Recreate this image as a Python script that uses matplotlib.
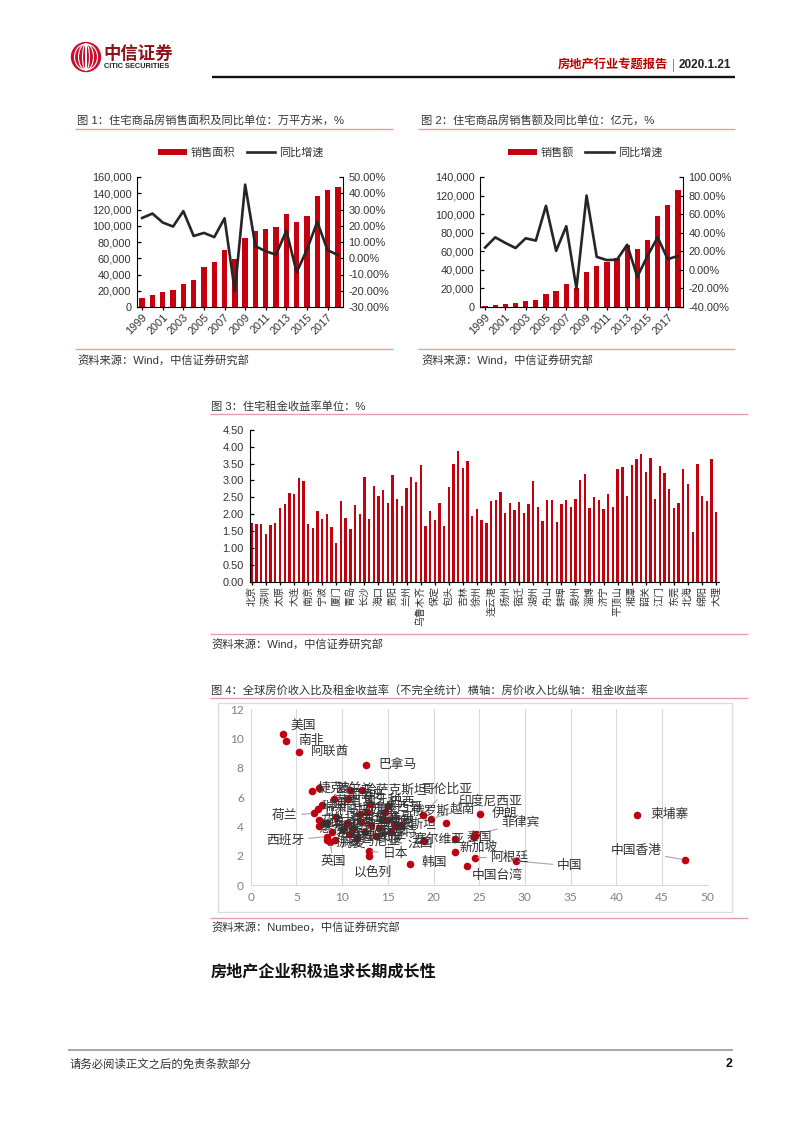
import numpy as np
import matplotlib
matplotlib.use('Agg')
import matplotlib.pyplot as plt
from matplotlib.patches import Circle, Rectangle, Ellipse
from matplotlib.ticker import FuncFormatter

plt.rcParams['font.family'] = ['Liberation Sans', 'Noto Sans CJK SC', 'DejaVu Sans']

W, H = 802, 1133
RED = '#C5000F'
PINK = '#E3A0A0'
TXT = '#333333'

# chart data
years = list(range(1999, 2019))
area = [11500, 14500, 18000, 21500, 28000, 33800, 49000, 55000, 70000, 58500,
        85500, 93000, 96500, 98000, 115000, 105000, 112000, 137000, 144500, 148000]
area_growth = [24.8, 27.5, 22, 19.5, 29, 13.7, 15.6, 13, 24.6, -20.3,
               45.3, 7.4, 4.3, 2.2, 17, -8.6, 5.3, 22.4, 5, 2]
sales = [1500, 2500, 3300, 4200, 6000, 8000, 14500, 17000, 25000, 21000,
         38000, 44000, 48000, 53000, 67000, 62000, 72500, 98500, 110000, 126000]
sales_growth = [24, 35, 29, 23.5, 34, 31.5, 69, 20.5, 47, -20,
                80, 14, 10.5, 11, 27, -7.5, 15, 35, 11.5, 15]

cities = ['北京', '深圳', '太原', '大连', '南京', '宁波', '厦门', '青岛', '长沙', '海口', '贵阳', '兰州',
          '乌鲁木齐', '保定', '包头', '吉林', '徐州', '连云港', '扬州', '宿迁', '湖州', '舟山', '蚌埠',
          '泉州', '淄博', '济宁', '平顶山', '湘潭', '韶关', '江门', '东莞', '北海', '绵阳', '大理']
rent_yield = [1.74, 1.72, 1.70, 1.42, 1.69, 1.74, 2.19, 2.30, 2.62, 2.59, 3.07, 2.98, 1.70, 1.60, 2.10, 1.86,
              2.01, 1.63, 1.15, 2.39, 1.88, 1.55, 2.27, 2.00, 3.10, 1.85, 2.83, 2.55, 2.71, 2.32, 3.16, 2.46,
              2.24, 2.79, 3.10, 2.97, 3.46, 1.66, 2.09, 1.82, 2.33, 1.64, 2.80, 3.48, 3.89, 3.36, 3.59, 1.95,
              2.14, 1.82, 1.74, 2.40, 2.42, 2.66, 2.03, 2.32, 2.11, 2.37, 2.03, 2.30, 2.99, 2.20, 1.81, 2.42,
              2.42, 1.76, 2.31, 2.42, 2.22, 2.44, 3.01, 3.19, 2.17, 2.52, 2.42, 2.15, 2.60, 2.21, 3.33, 3.41,
              2.54, 3.46, 3.63, 3.78, 3.26, 3.67, 2.44, 3.43, 3.22, 2.75, 2.19, 2.33, 3.34, 2.89, 1.46, 3.48,
              2.54, 2.39, 3.63, 2.05]

# scatter: price to income ratio, rental yield, label offset from the point in pixels
countries = ['美国', '南非', '阿联酋', '巴拿马', '柬埔寨', '中国香港', '中国', '阿根廷', '中国台湾', '新加坡',
             '韩国', '日本', '以色列', '英国', '西班牙', '荷兰', '伊朗', '菲律宾', '越南', '印度尼西亚',
             '哥伦比亚', '俄罗斯', '法国', '塞尔维亚', '泰国', '波兰', '爱尔兰', '哈萨克斯坦', '土耳其', '比利时',
             '捷克', '葡萄牙', '德国', '瑞典', '芬兰', '意大利', '奥地利', '瑞士', '希腊', '挪威',
             '丹麦', '匈牙利', '巴西', '墨西哥', '智利', '秘鲁', '印度', '马来西亚', '澳大利亚', '新西兰',
             '加拿大', '乌克兰', '罗马尼亚', '克罗地亚', '保加利亚', '斯洛伐克', '埃及', '摩洛哥', '沙特', '巴基斯坦']
income_ratio = [3.5, 3.9, 5.3, 12.6, 42.3, 47.5, 29.0, 24.5, 23.7, 22.3,
                17.4, 12.95, 12.95, 8.7, 8.3, 6.9, 25.1, 24.6, 21.4, 19.7,
                18.9, 16.4, 19.0, 22.3, 24.4, 7.5, 10.9, 12.2, 9.1, 9.3,
                6.7, 10.7, 7.8, 7.4, 7.5, 7.5, 8.3, 7.8, 8.9, 8.3,
                9.2, 13.0, 15.0, 14.7, 14.9, 12.7, 13.7, 12.0, 10.1, 10.5,
                10.9, 11.2, 11.6, 12.1, 12.5, 13.2, 14.0, 14.4, 15.3, 15.8]
yield_pct = [10.3, 9.8, 9.05, 8.15, 4.74, 1.71, 1.64, 1.87, 1.32, 2.28,
             1.43, 2.32, 1.98, 2.9, 3.3, 4.9, 4.87, 3.45, 4.2, 4.5,
             4.8, 4.1, 3.03, 3.17, 3.3, 6.6, 6.45, 6.45, 5.85, 4.65,
             6.4, 5.85, 5.45, 5.2, 4.45, 4.0, 4.2, 4.25, 3.6, 3.1,
             3.1, 5.55, 5.4, 5.0, 4.4, 5.0, 3.37, 4.85, 3.8, 4.2,
             3.5, 3.9, 3.2, 4.3, 3.6, 4.1, 3.9, 4.4, 3.7, 4.0]
label_dx = [21, 25, 31, 32, 32, -49, 54, 35, 30, 24,
            25, 26, 4, 3, -41, -29, 24, 45, 16, 59,
            23, 30, -4, -16, 6, 30, 4, 33, 23, 8,
            18, 18, 22, 16, 14, 18, 14, 20, 16, 22,
            18, 12, 14, 18, 14, 10, 14, 10, 20, 22,
            20, 16, 18, 14, 16, 18, 16, 12, 14, 16]
label_dy = [7, 0, 0, 0, 0, 9, -5, 0, -10, 4,
            1, -3, -17, -20, -4, -3, 0, 11, 14, 18,
            25, 13, -3, -1, -1, 0, 0, 0, -3, 6,
            2, 3, 3, 2, -2, -3, -2, 2, -2, -3,
            -4, 3, 3, 4, -2, 3, -3, 3, -3, 2,
            -3, 2, -3, 2, -3, 2, -3, 2, -2, 2]
leader_labels = ['中国香港', '中国', '阿根廷', '日本', '英国', '西班牙', '荷兰', '菲律宾', '印度尼西亚', '哥伦比亚']


def px_axes(left, top, right, bottom):
    return fig.add_axes([left / W, 1 - bottom / H, (right - left) / W, (bottom - top) / H])


def thousands(v, pos):
    return f'{int(v):,}'


def bar_line_chart(box, bars, growth, bar_name, bar_top, bar_step, g_low, g_high, g_step, legend_x):
    ax = px_axes(*box)
    ax.bar(range(len(years)), bars, width=0.52, color=RED, label=bar_name)
    ax.set_xlim(-0.5, len(years) - 0.5)
    ax.set_ylim(0, bar_top)
    ax.set_yticks(np.arange(0, bar_top + 1, bar_step))
    ax.yaxis.set_major_formatter(FuncFormatter(thousands))
    ax.set_xticks(range(0, len(years), 2))
    ax.set_xticklabels(years[::2], rotation=45, ha='right', rotation_mode='anchor')
    ax.tick_params(axis='y', direction='in', length=3, width=0.9, labelsize=7.9, pad=4, labelcolor=TXT)
    ax.tick_params(axis='x', direction='out', length=2.5, width=0.9, labelsize=7.9, pad=1, labelcolor=TXT)
    ax.spines['top'].set_visible(False)
    ax.spines['right'].set_visible(False)

    ax2 = ax.twinx()
    ax2.plot(range(len(years)), growth, color='#262626', lw=1.9, label='同比增速')
    ax2.set_ylim(g_low, g_high)
    ax2.set_yticks(np.arange(g_low, g_high + 1, g_step))
    ax2.yaxis.set_major_formatter(FuncFormatter(lambda v, p: f'{v:.2f}%'))
    ax2.tick_params(axis='y', direction='in', length=3, width=0.9, labelsize=7.9, pad=4, labelcolor=TXT)
    ax2.spines['top'].set_visible(False)
    for s in ['left', 'bottom']:
        ax2.spines[s].set_visible(False)

    h1, l1 = ax.get_legend_handles_labels()
    h2, l2 = ax2.get_legend_handles_labels()
    fig.legend(h1 + h2, l1 + l2, loc='center', bbox_to_anchor=(legend_x / W, 1 - 152.5 / H), ncol=2,
               frameon=False, fontsize=8, handlelength=2.6, handleheight=0.45, handletextpad=0.35,
               columnspacing=1.0, labelcolor=TXT)


fig = plt.figure(figsize=(W / 100, H / 100), dpi=100, facecolor='white')

# page layer in pixel coordinates
page = fig.add_axes([0, 0, 1, 1], zorder=-1)
page.set_xlim(0, W)
page.set_ylim(H, 0)
page.axis('off')


def rule(x0, x1, y, color=PINK, lw=1.0):
    page.plot([x0, x1], [y, y], color=color, lw=lw, solid_capstyle='butt')


def note(x, y, s, size=8.1, color=TXT, weight='normal', ha='left'):
    page.text(x, y, s, fontsize=size, color=color, fontweight=weight, ha=ha, va='center')


# header and logo
page.add_patch(Circle((86, 57), 14.5, color='#C8102E'))
for rx in [11.5, 7.5, 3.5]:
    page.add_patch(Ellipse((86, 57), rx * 2, 26, fill=False, ec='white', lw=0.8))
page.add_patch(Rectangle((85.3, 44), 1.4, 26, color='white', lw=0))
note(103, 53.5, '中信证券', size=12.5, color='#8E1118', weight='bold')
note(103.5, 67, 'CITIC SECURITIES', size=5.3, color='#222222', weight='bold')
note(558, 65, '房地产行业专题报告', size=8.8, color='#C00000', weight='bold')
page.plot([672.5, 672.5], [59, 71], color='#888888', lw=0.7)
note(679, 65, '2020.1.21', size=8.5, color='#222222', weight='bold')
rule(212, 735, 76.5, color='#111111', lw=1.7)

# captions and rules
note(77, 121, '图 1：住宅商品房销售面积及同比单位：万平方米，%')
rule(75, 393, 129)
rule(75, 393, 349)
note(77, 361, '资料来源：Wind，中信证券研究部')
note(421, 121, '图 2：住宅商品房销售额及同比单位：亿元，%')
rule(418, 735, 129)
rule(418, 735, 349)
note(421, 361, '资料来源：Wind，中信证券研究部')
note(211, 407, '图 3：住宅租金收益率单位：%')
rule(210, 748, 414)
rule(210, 748, 634)
note(211, 645, '资料来源：Wind，中信证券研究部')
note(211, 691, '图 4：全球房价收入比及租金收益率（不完全统计）横轴：房价收入比纵轴：租金收益率')
rule(210, 748, 698)
rule(210, 748, 918)
note(211, 928, '资料来源：Numbeo，中信证券研究部')
note(211, 972, '房地产企业积极追求长期成长性', size=11.6, color='#111111', weight='bold')
rule(68, 733, 1049.5, color='#A6A6A6', lw=1.4)
note(70, 1064, '请务必阅读正文之后的免责条款部分', size=8.2)
note(732, 1064, '2', size=9, color='#111111', weight='bold', ha='right')

# figures 1 and 2
bar_line_chart((137, 177, 343, 307), area, area_growth, '销售面积', 160000, 20000, -30, 50, 10, 241)
bar_line_chart((480, 177, 683, 307), sales, sales_growth, '销售额', 140000, 20000, -40, 100, 20, 585)

# figure 3
ax3 = px_axes(249.5, 430, 718.5, 581.5)
ax3.bar(range(len(rent_yield)), rent_yield, width=0.5, color=RED)
ax3.set_xlim(-0.5, len(rent_yield) - 0.5)
ax3.set_ylim(0, 4.5)
ax3.set_yticks(np.arange(0, 4.51, 0.5))
ax3.yaxis.set_major_formatter(FuncFormatter(lambda v, p: f'{v:.2f}'))
ax3.set_xticks(range(0, len(rent_yield), 3))
ax3.set_xticklabels(cities, rotation=90, ha='center', va='top')
ax3.tick_params(axis='y', direction='in', length=3, width=0.9, labelsize=7.9, pad=4, labelcolor=TXT)
ax3.tick_params(axis='x', direction='out', length=2, width=0.9, labelsize=7.2, pad=1, labelcolor=TXT)
ax3.spines['top'].set_visible(False)
ax3.spines['right'].set_visible(False)

# figure 4
page.add_patch(Rectangle((218, 703), 514, 209, fill=True, fc='white', ec='#DDDDDD', lw=1))
ax4 = px_axes(250.7, 709, 707.7, 885)
ax4.set_xlim(0, 50)
ax4.set_ylim(0, 12)
ax4.set_xticks(range(0, 51, 5))
ax4.set_yticks(range(0, 13, 2))
ax4.grid(axis='x', color='#D9D9D9', lw=0.8)
ax4.set_axisbelow(True)
ax4.patch.set_alpha(0)
for s in ['top', 'right', 'left']:
    ax4.spines[s].set_visible(False)
ax4.spines['bottom'].set_color('#D9D9D9')
ax4.tick_params(length=0, labelsize=8.6, labelcolor='#808080', pad=5)
for lbl in ax4.get_xticklabels() + ax4.get_yticklabels():
    lbl.set_family(['Lato', 'Liberation Sans'])
ax4.scatter(income_ratio, yield_pct, s=30, color='#C00010', lw=0, zorder=3, clip_on=False)
for name, xv, yv, dx, dy in zip(countries, income_ratio, yield_pct, label_dx, label_dy):
    arrow = dict(arrowstyle='-', color='#A6A6A6', lw=0.8, shrinkA=1, shrinkB=2) if name in leader_labels else None
    ax4.annotate(name, (xv, yv), xytext=(dx, dy), textcoords='offset pixels', ha='center', va='center',
                 fontsize=9.2, color='#333333', arrowprops=arrow, zorder=4)

fig.savefig('out.png', dpi=100, facecolor='white')
